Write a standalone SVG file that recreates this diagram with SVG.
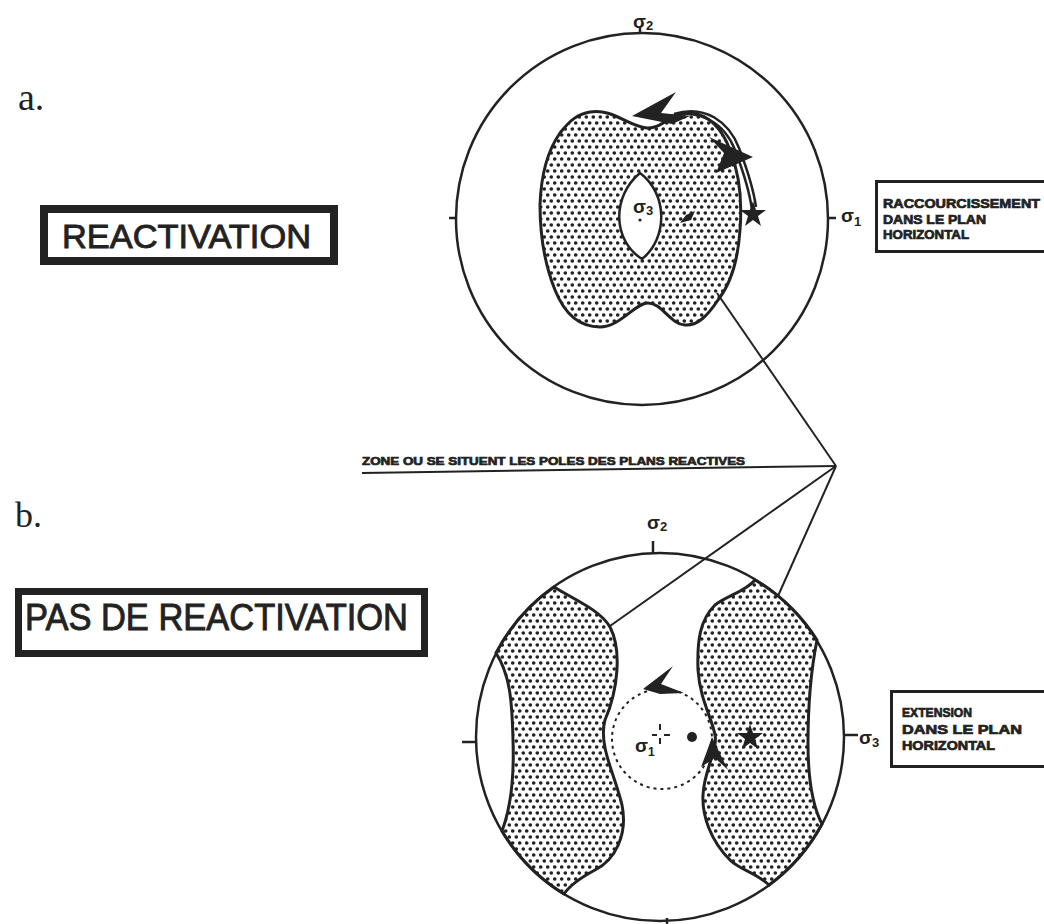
<svg xmlns="http://www.w3.org/2000/svg" width="1044" height="924" viewBox="0 0 1044 924">
<defs>
<pattern id="dots" width="7" height="12" patternUnits="userSpaceOnUse">
<circle cx="1.75" cy="3" r="1.8" fill="#222"/>
<circle cx="5.25" cy="9" r="1.8" fill="#222"/>
</pattern>
<style>
.ln{fill:none;stroke:#222;stroke-width:2.5}
.net{fill:none;stroke:#222;stroke-width:2.5}
.zone{fill:url(#dots);stroke:#222;stroke-width:3}
.blk{fill:#222;stroke:none}
.big{font-family:"Liberation Sans",Arial,sans-serif;fill:#222;stroke:#222;stroke-width:0.9}
.lab{font-family:"Liberation Sans",Arial,sans-serif;font-weight:bold;fill:#222;stroke:#222;stroke-width:0.7}
.ser{font-family:"Liberation Serif","Times New Roman",serif;fill:#222}
.sig{font-family:"Liberation Sans",Arial,sans-serif;font-weight:bold;fill:#222}
.conn{fill:none;stroke:#222;stroke-width:2}
</style>
</defs>
<rect width="1044" height="924" fill="#fff"/>

<g id="label-a"><text class="ser" x="18" y="110" font-size="38">a.</text></g>
<g id="label-b"><text class="ser" x="15" y="527" font-size="36">b.</text></g>

<g id="box-reactivation">
<rect x="44" y="209" width="290" height="52" fill="#fff" stroke="#222" stroke-width="8"/>
<text class="big" x="62" y="248" font-size="34" textLength="249" lengthAdjust="spacingAndGlyphs">REACTIVATION</text>
</g>

<g id="box-pas-reactivation">
<rect x="18.5" y="591.5" width="406" height="62" fill="#fff" stroke="#222" stroke-width="7"/>
<text class="big" x="25" y="630" font-size="37" textLength="383" lengthAdjust="spacingAndGlyphs">PAS DE REACTIVATION</text>
</g>

<g id="stereonet-a">
<circle class="net" cx="642" cy="219" r="186"/>
<line class="ln" x1="640" y1="27" x2="640" y2="34"/>
<line class="ln" x1="449" y1="218" x2="456" y2="218"/>
<line class="ln" x1="828" y1="218" x2="836" y2="218"/>
<text class="sig" x="633" y="28" font-size="19">σ<tspan font-size="13" dy="2">2</tspan></text>
<text class="sig" x="841" y="222" font-size="19">σ<tspan font-size="13" dy="4">1</tspan></text>
<path class="zone" d="M590,112 C612,108 628,126 647,128 C662,129 672,112 690,113 C708,114 722,128 730,150 C740,175 742,205 740,230 C738,260 730,285 718,300 C708,315 698,326 685,325 C670,324 662,303 648,303 C635,303 620,327 600,327 C580,327 565,315 555,290 C545,265 540,235 540,205 C541,175 548,150 560,133 C570,120 578,114 590,112 Z"/>
<path d="M640,173 C612,196 612,240 642,259 C668,238 668,194 640,173 Z" fill="#fff" stroke="#222" stroke-width="2.5"/>
<text class="sig" x="633" y="213" font-size="19">σ<tspan font-size="13" dy="2">3</tspan></text>
<circle class="blk" cx="640" cy="220" r="1.6"/>
<path class="blk" d="M680,223 L686,215 L695,211 L691,220 Z"/>
<path class="ln" d="M668,117 C700,107 725,124 735,150 S750,195 752,210"/>
<path class="ln" d="M674,114 C705,104 729,122 739,148 S754,193 756,207"/>
<path class="blk" d="M632,116 L676,92 L661,113 L690,116 L672,124 Z"/>
<path class="blk" d="M753,157 L709,137 L724,153 L716,173 Z"/>
<path class="blk" d="M753,201 L756,210 L766,210 L758,216 L761,226 L753,220 L745,226 L748,216 L740,210 L750,210 Z"/>
</g>

<g id="label-raccourcissement">
<rect x="876.5" y="181.5" width="172" height="70" fill="#fff" stroke="#222" stroke-width="3"/>
<text class="lab" x="883" y="208" font-size="12.5" textLength="157" lengthAdjust="spacingAndGlyphs">RACCOURCISSEMENT</text>
<text class="lab" x="883" y="224" font-size="12.5" textLength="103" lengthAdjust="spacingAndGlyphs">DANS LE PLAN</text>
<text class="lab" x="883" y="239" font-size="12.5" textLength="86" lengthAdjust="spacingAndGlyphs">HORIZONTAL</text>
</g>

<g id="label-zone">
<text class="lab" x="362" y="465" font-size="11" textLength="383" lengthAdjust="spacingAndGlyphs">ZONE OU SE SITUENT LES POLES DES PLANS  REACTIVES</text>
</g>

<g id="stereonet-b">
<path class="zone" d="M554,587 C575,600 600,610 610,627 C622,650 618,690 605,720 C598,745 615,775 622,805 C628,835 615,860 595,870 C580,878 570,885 564,894 A184,184 0 0 1 502,831 C512,805 514,770 513,740 C512,700 510,675 496,653 A184,184 0 0 1 554,587 Z"/>
<path class="zone" d="M755,580 A184,184 0 0 1 817,640 C812,665 808,700 808,743 C808,780 812,805 822,824 A184,184 0 0 1 769,885 C755,872 740,870 730,860 C710,840 702,815 703,795 C704,770 718,750 715,735 C712,718 700,700 698,670 C697,640 700,620 715,605 C728,595 745,592 755,580 Z"/>
<circle class="net" cx="660" cy="737" r="184"/>
<line class="ln" x1="653" y1="541" x2="653" y2="554"/>
<line class="ln" x1="462" y1="742" x2="476" y2="742"/>
<line class="ln" x1="844" y1="735" x2="858" y2="735"/>
<line class="ln" x1="667" y1="918" x2="667" y2="924"/>
<text class="sig" x="647" y="529" font-size="19">σ<tspan font-size="13" dy="2">2</tspan></text>
<text class="sig" x="859" y="744" font-size="19">σ<tspan font-size="13" dy="3">3</tspan></text>
<circle cx="662" cy="739" r="50" fill="none" stroke="#222" stroke-width="2" stroke-dasharray="3 4"/>
<text class="sig" x="635" y="752" font-size="19">σ<tspan font-size="12" dy="4">1</tspan></text>
<path d="M660,724 V730 M660,738 V744 M652,735 H657 M664,735 H670" fill="none" stroke="#222" stroke-width="2"/>
<circle class="blk" cx="692" cy="737" r="5"/>
<path class="blk" d="M643,689 L673,666 L661,684 L684,693 L660,694 Z"/>
<path class="blk" d="M712,737 L728,770 L715,758 L701,767 L707,751 Z"/>
<path class="blk" d="M750,724 L753,733 L763,733 L755,739 L758,749 L750,743 L742,749 L745,739 L737,733 L747,733 Z"/>
</g>

<g id="label-extension">
<rect x="891.5" y="691.5" width="160" height="75" fill="#fff" stroke="#222" stroke-width="3"/>
<text class="lab" x="902" y="717" font-size="12.5" textLength="70" lengthAdjust="spacingAndGlyphs">EXTENSION</text>
<text class="lab" x="902" y="734" font-size="12.5" textLength="120" lengthAdjust="spacingAndGlyphs">DANS LE PLAN</text>
<text class="lab" x="902" y="750" font-size="12.5" textLength="93" lengthAdjust="spacingAndGlyphs">HORIZONTAL</text>
</g>

<g id="connectors">
<line class="conn" x1="362" y1="473" x2="836" y2="466"/>
<line class="conn" x1="717" y1="293" x2="836" y2="466"/>
<line class="conn" x1="610" y1="626" x2="836" y2="466"/>
<line class="conn" x1="778" y1="596" x2="836" y2="466"/>
</g>
</svg>
